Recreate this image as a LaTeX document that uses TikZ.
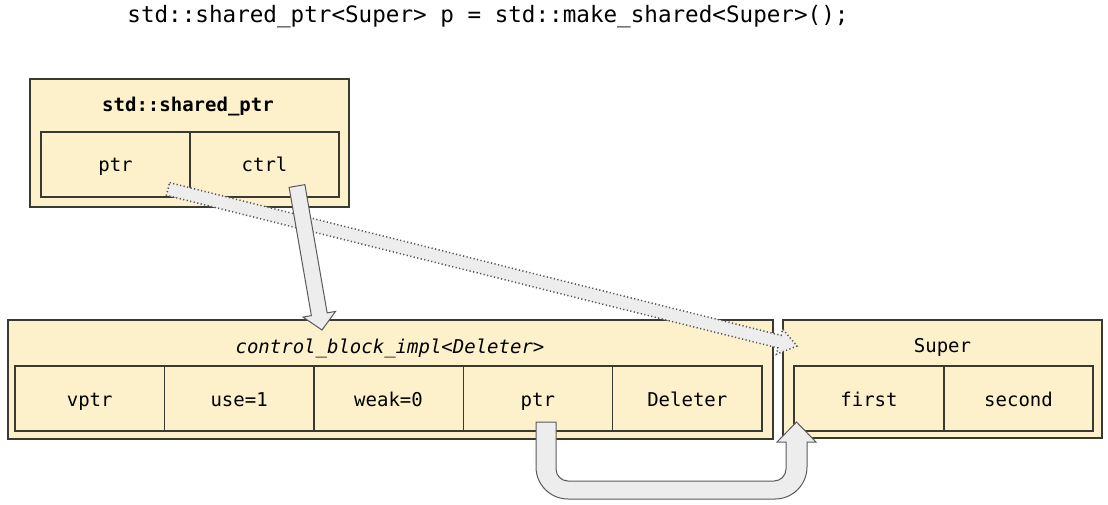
\documentclass[tikz,border=0pt]{standalone}
\usepackage{fontspec}
\setmonofont{DejaVu Sans Mono}
\usetikzlibrary{calc}
\definecolor{cream}{HTML}{FDF1CB}
\definecolor{boxline}{HTML}{3A3A30}
\definecolor{arrowfill}{HTML}{EDEDED}
\definecolor{arrowline}{HTML}{5A5A5A}
\definecolor{dotline}{HTML}{555555}
\begin{document}
\begin{tikzpicture}[x=1pt,y=-1pt,
  outerbox/.style={draw=boxline,fill=cream,line width=1.4pt},
  cellbox/.style={draw=boxline,line width=1.4pt},
  celltext/.style={font=\ttfamily\fontsize{19}{22}\selectfont,inner sep=0pt,text height=13.9pt,text depth=0pt},
  blockarrow/.style={draw=arrowline,fill=arrowfill,line width=1pt,line join=miter},
  dotarrow/.style={draw=dotline,fill=arrowfill,line width=1.5pt,dash pattern=on 1.2pt off 2.4pt,line join=miter}]
\useasboundingbox (0,0) rectangle (1108,504);
% title
\node[font=\ttfamily\fontsize{22.6}{26}\selectfont,inner sep=0pt,text height=16.5pt,text depth=0pt] (title) at (488,14) {std::shared\_ptr<Super> p = std::make\_shared<Super>();};
% shared_ptr box
\draw[outerbox] (30,79) rectangle (349,207);
\node[celltext,font=\ttfamily\bfseries\fontsize{19}{22}\selectfont] (sptitle) at (188,105) {std::shared\_ptr};
\draw[cellbox] (41,132) rectangle (190,197);
\draw[cellbox] (190,132) rectangle (339,197);
\node[celltext] (spptr) at (115.5,165) {ptr};
\node[celltext] (spctrl) at (264.5,165) {ctrl};
% control block
\draw[outerbox] (8,320) rectangle (773,439);
\node[celltext,font=\ttfamily\itshape\fontsize{19}{22}\selectfont] (cbtitle) at (390,346.5) {control\_block\_impl<Deleter>};
\draw[cellbox] (15,366) rectangle (164.4,431);
\draw[cellbox] (164.4,366) rectangle (313.8,431);
\draw[cellbox] (313.8,366) rectangle (463.2,431);
\draw[cellbox] (463.2,366) rectangle (612.6,431);
\draw[cellbox] (612.6,366) rectangle (762,431);
\node[celltext] (cbvptr) at (89.7,400) {vptr};
\node[celltext] (cbuse) at (239.1,400) {use=1};
\node[celltext] (cbweak) at (388.5,400) {weak=0};
\node[celltext] (cbptr) at (537.9,400) {ptr};
\node[celltext] (cbdel) at (687.3,400) {Deleter};
% Super box
\draw[outerbox] (783,320) rectangle (1102,438);
\node[celltext] (sutitle) at (942.5,346) {Super};
\draw[cellbox] (794,366) rectangle (944,431);
\draw[cellbox] (944,366) rectangle (1093,431);
\node[celltext] (sufirst) at (869,400) {first};
\node[celltext] (susecond) at (1018.5,400) {second};
% U-shaped arrow from control block ptr to Super
\draw[blockarrow] (536,422) -- (556,422) -- (556,469)
  arc[start angle=180,end angle=270,radius=12pt] -- (774,481)
  arc[start angle=270,end angle=360,radius=12pt] -- (786,442)
  -- (777,442) -- (796.5,422) -- (816,442) -- (807,442) -- (807,467)
  arc[start angle=0,end angle=-90,radius=32pt] -- (568,499)
  arc[start angle=-90,end angle=-180,radius=32pt] -- cycle;
% dotted arrow from shared_ptr ptr to Super
\coordinate (dS) at (168,189);
\coordinate (dT) at (797,346);
\coordinate (dH) at ($(dT)!18pt!(dS)$);
\draw[dotarrow] ($(dS)!6.5pt!90:(dT)$) -- ($(dH)!6.5pt!-90:(dS)$) -- ($(dH)!13pt!-90:(dS)$) -- (dT)
  -- ($(dH)!13pt!90:(dS)$) -- ($(dH)!6.5pt!90:(dS)$) -- ($(dS)!6.5pt!-90:(dT)$) -- cycle;
% solid arrow from ctrl to control block
\coordinate (cS) at (297,186);
\coordinate (cT) at (322,330);
\coordinate (cH) at ($(cT)!16pt!(cS)$);
\draw[blockarrow] ($(cS)!8pt!90:(cT)$) -- ($(cH)!8pt!-90:(cS)$) -- ($(cH)!16.5pt!-90:(cS)$) -- (cT)
  -- ($(cH)!16.5pt!90:(cS)$) -- ($(cH)!8pt!90:(cS)$) -- ($(cS)!8pt!-90:(cT)$) -- cycle;
\end{tikzpicture}
\end{document}
